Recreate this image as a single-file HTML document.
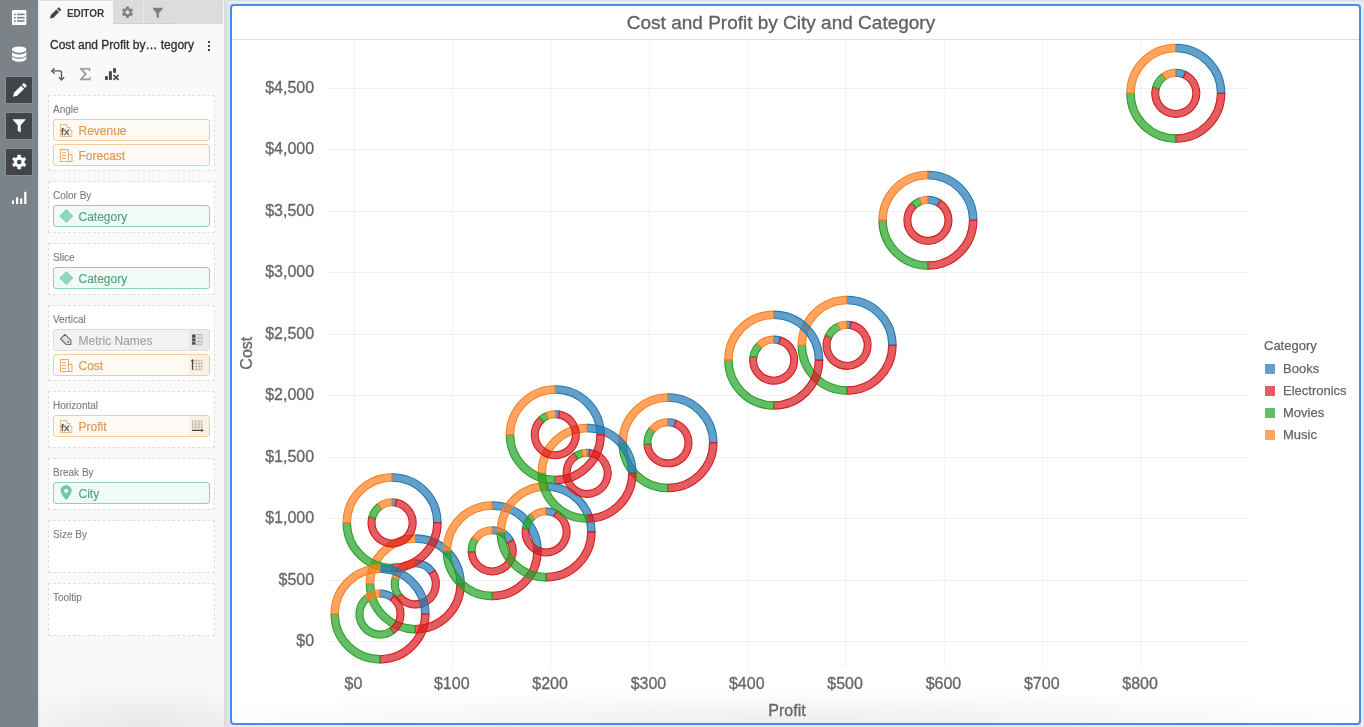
<!DOCTYPE html>
<html>
<head>
<meta charset="utf-8">
<title>Cost and Profit by City and Category</title>
<style>
html,body{margin:0;padding:0}
body{width:1364px;height:727px;overflow:hidden;background:#ebebeb;font-family:"Liberation Sans",sans-serif;position:relative;color:#333}
*{box-sizing:border-box}
.abs{position:absolute}
#sidebar{position:absolute;left:0;top:0;width:38px;height:727px;background:#7b8389}
.sq{position:absolute;left:6px;width:26px;height:26px;background:#414549;box-shadow:0 0 0 1px rgba(255,255,255,0.10);border-radius:1px}
#panel{position:absolute;left:38px;top:0;width:186px;height:727px;background:#f9f9f9}
#panelshadow{position:absolute;left:224px;top:0;width:7px;height:727px;background:linear-gradient(to right,#d9d9d9,#ebebeb)}
#panelfade{position:absolute;left:38px;top:682px;width:186px;height:45px;background:radial-gradient(ellipse 95% 100% at 58% 100%,rgba(0,0,0,0.065) 0%,rgba(0,0,0,0.04) 45%,rgba(0,0,0,0) 100%)}
#tabbar{position:absolute;left:38px;top:1px;width:185px;height:23px;background:#dcdcdc}
#tab1{position:absolute;left:38px;top:1px;width:75px;height:23px;background:#f9f9f9}
.tabdiv{position:absolute;top:1px;width:1px;height:23px;background:#e9e9e9}
#tabline{position:absolute;left:113px;top:23px;width:60px;height:1px;background:#cfcfcf}
#edlabel{will-change:transform;position:absolute;left:66.500px;top:9px;font-size:10px;font-weight:bold;color:#3a3a3a;line-height:10px;letter-spacing:-0.1px}
#ptitle{will-change:transform;position:absolute;left:50px;top:38px;font-size:12px;line-height:14px;color:#2c2f36;white-space:nowrap;-webkit-text-stroke:0.300px #2c2f36}
.zone{will-change:transform;position:absolute;left:48px;width:167px;background:#fff;border:1px dashed #dfdfdf}
.zl{position:absolute;left:4px;top:8px;-webkit-text-stroke:0.100px;font-size:10px;line-height:11px;color:#7b7b7b}
.pill{position:absolute;left:4px;width:157px;height:22px;border-radius:3px;border:1px solid;font-size:12px;line-height:22px;padding-left:24.500px;overflow:hidden;-webkit-text-stroke:0.150px}
.pill svg{position:absolute;left:0;top:0}
.or{border-color:#f3cc9d;background:#fdf9f4;color:#dc984f}
.gr{border-color:#8fd3b3;background:#f1faf6;color:#4aa87c}
.gy{border-color:#dcdcdc;background:#f3f3f3;color:#a3a3a3}
.pr{position:absolute;right:0;top:0;width:20px;height:20px}
.or .pr{background:#fcf1e5}
.gy .pr{background:#e9e9e9}
#chart{position:absolute;left:230px;top:4px;width:1131px;height:721px;border:2px solid #4090ea;border-radius:4px;background:#fff;overflow:hidden}
#ctitleline{position:absolute;left:0;top:33px;width:100%;height:1px;background:#dedede}
#cfade{position:absolute;left:0;bottom:0;width:100%;height:34px;background:radial-gradient(ellipse 58% 100% at 50% 100%,rgba(0,0,0,0.07) 0%,rgba(0,0,0,0.035) 50%,rgba(0,0,0,0) 100%)}
#chartsvg{position:absolute;left:0;top:0;will-change:transform}
</style>
</head>
<body>

<!-- left dark sidebar -->
<div id="sidebar">
  <div class="sq" style="top:77px"></div>
  <div class="sq" style="top:113px"></div>
  <div class="sq" style="top:149px"></div>
  <svg class="abs" style="left:0;top:0" width="38" height="220" viewBox="0 0 38 220">
    <!-- list -->
    <rect x="12" y="10" width="14.4" height="15" rx="1" fill="#fff"/>
    <g fill="#7b8389">
      <rect x="14" y="13.6" width="1.8" height="1.6"/><rect x="17" y="13.6" width="7.6" height="1.6"/>
      <rect x="14" y="16.9" width="1.8" height="1.6"/><rect x="17" y="16.9" width="7.6" height="1.6"/>
      <rect x="14" y="20.2" width="1.8" height="1.6"/><rect x="17" y="20.2" width="7.6" height="1.6"/>
    </g>
    <!-- database -->
    <g fill="#fff">
      <ellipse cx="19.2" cy="49.6" rx="7.2" ry="3.2"/>
      <path d="M12 51.8c1 1.7 3.8 2.6 7.2 2.6s6.200-.9 7.200-2.600v2.600c0 1.800-3.200 3.200-7.200 3.200s-7.200-1.400-7.200-3.200z"/>
      <path d="M12 56.200c1 1.700 3.800 2.600 7.200 2.600s6.200-.9 7.200-2.600v2.400c0 1.800-3.200 3.200-7.200 3.200s-7.200-1.400-7.200-3.200z"/>
    </g>
    <!-- pencil -->
    <g fill="#fff">
      <path d="M13 96.800l1-4.100 7-7 3.100 3.100-7 7z"/>
      <path d="M21.900 84.800l1.100-1.100c.5-.5 1.300-.5 1.800 0l1.300 1.300c.5.5.5 1.300 0 1.800l-1.100 1.100z"/>
    </g>
    <!-- funnel -->
    <path d="M12.500 119.300h13.400l-5.200 6v7.200l-3 -1.700v-5.500z" fill="#fff"/>
    <!-- gear -->
    <g transform="translate(19.200,162)">
      <g fill="#fff">
        <circle r="5.400"/>
        <g id="teeth">
          <rect x="-1.700" y="-7.300" width="3.400" height="14.600" rx="0.600"/>
          <rect x="-1.700" y="-7.300" width="3.400" height="14.600" rx="0.600" transform="rotate(60)"/>
          <rect x="-1.700" y="-7.300" width="3.400" height="14.600" rx="0.600" transform="rotate(120)"/>
        </g>
      </g>
      <circle r="2.300" fill="#414549"/>
    </g>
    <!-- bars -->
    <g fill="#fff">
      <rect x="12" y="200.400" width="2" height="3.600"/>
      <rect x="16" y="197.300" width="2.200" height="6.700"/>
      <rect x="20.100" y="198.600" width="2.200" height="5.400"/>
      <rect x="24.200" y="191.800" width="2.200" height="12.200"/>
    </g>
  </svg>
</div>

<!-- editor panel -->
<div id="panel"></div>
<div id="panelshadow"></div>
<div id="tabbar"></div>
<div id="tab1"></div>
<div class="tabdiv" style="left:143px"></div>
<div id="tabline"></div>
<div class="abs" style="left:38px;top:0;width:2px;height:727px;background:linear-gradient(to right,#e8e8e8,#f9f9f9)"></div>
<div class="abs" style="left:38px;top:0;width:1326px;height:1px;background:#dedede"></div>
<svg class="abs" style="left:38px;top:0" width="186" height="90" viewBox="38 0 186 90">
  <!-- tab pencil -->
  <g fill="#444">
    <path d="M49.900 18.600l.9-3.600 5.600-5.600 2.700 2.700-5.600 5.600z"/>
    <path d="M57.100 8.700l.9-.9c.4-.4 1-.4 1.400 0l1.300 1.300c.4.400.4 1 0 1.400l-.9.900z"/>
  </g>
  <!-- tab gear -->
  <g transform="translate(127.500,12.200)">
    <g fill="#808080">
      <circle r="4.200"/>
      <rect x="-1.400" y="-5.700" width="2.800" height="11.400" rx="0.500"/>
      <rect x="-1.400" y="-5.700" width="2.800" height="11.400" rx="0.500" transform="rotate(60)"/>
      <rect x="-1.400" y="-5.700" width="2.800" height="11.400" rx="0.500" transform="rotate(120)"/>
    </g>
    <circle r="2" fill="#dcdcdc"/>
  </g>
  <!-- tab funnel -->
  <path d="M153 7.800h9.700v1.200l-3.800 4.300v5l-2.400-1.400v-3.600l-3.500-4.300z" fill="#808080"/>
  <!-- kebab -->
  <g fill="#444"><rect x="208" y="41" width="2" height="2"/><rect x="208" y="45" width="2" height="2"/><rect x="208" y="49" width="2" height="2"/></g>
  <!-- swap icon -->
  <g fill="none" stroke="#585858" stroke-width="1.300" stroke-linejoin="round" stroke-linecap="round">
    <path d="M51.900 70.900h7.400q2.200 0 2.200 2.200v6.400"/>
    <path d="M54.300 68.600l-2.600 2.300 2.600 2.300"/>
    <path d="M59.200 77.500l2.300 2.500 2.300-2.500"/>
  </g>
  <!-- sigma -->
  <path d="M80 68.200h10v2.600h-.8c-.1-.9-.6-1.300-1.500-1.300h-5.100l4.200 4.500-4.500 4.800h5.700c1 0 1.500-.5 1.700-1.500h.8l-.4 2.800h-10.100v-.7l4.700-5.200-4.700-5.200z" fill="#9b9b9b" stroke="#9b9b9b" stroke-width="0.500" stroke-linejoin="round"/>
  <!-- bars with x -->
  <g fill="#484848">
    <rect x="105" y="76.100" width="2.800" height="3.800"/>
    <rect x="108.900" y="71.200" width="3" height="8.700"/>
    <rect x="113.100" y="68.200" width="2.900" height="4.600"/>
  </g>
  <path d="M113.500 75l5.100 4.900M118.600 75l-5.100 4.900" stroke="#484848" stroke-width="1.700" fill="none"/>
</svg>
<div id="edlabel">EDITOR</div>
<div id="ptitle">Cost and Profit by… tegory</div>

<!-- drop zones -->
<div class="zone" style="top:95px;height:76px"><div class="zl">Angle</div>
  <div class="pill or" style="top:23px"><svg width="24" height="20" viewBox="0 0 24 20"><g>
      <path d="M6.500 4.500h6.400v2.900h2.900v3h2v6.200h-11.300z" fill="#fefaf5" stroke="#e9b67c" stroke-width="1"/>
      <text x="7" y="14.800" font-size="9.500" font-family="Liberation Sans, sans-serif" fill="#505458" stroke="#505458" stroke-width="0.300" textLength="8.400" lengthAdjust="spacingAndGlyphs">fx</text>
    </g></svg>Revenue</div>
  <div class="pill or" style="top:48px"><svg width="24" height="20" viewBox="0 0 24 20"><g fill="none" stroke="#e6ab6c" stroke-width="1">
      <path d="M6.500 4.500h8v12h-8z"/><path d="M14.500 9.500h3.500v7h-3.500"/>
      <path d="M8 7.700h4M8 10.500h4M8 13.400h4"/>
    </g></svg>Forecast</div>
</div>
<div class="zone" style="top:181px;height:52px"><div class="zl">Color By</div>
  <div class="pill gr" style="top:23px"><svg width="24" height="20" viewBox="0 0 24 20"><g><path d="M12.300 3.600l6.500 6.500-6.500 6.500-6.500-6.500z" fill="#8fd8b8" stroke="#74cba8" stroke-width="0.800"/></g></svg>Category</div>
</div>
<div class="zone" style="top:243px;height:52px"><div class="zl">Slice</div>
  <div class="pill gr" style="top:23px"><svg width="24" height="20" viewBox="0 0 24 20"><g><path d="M12.300 3.600l6.500 6.500-6.500 6.500-6.500-6.500z" fill="#8fd8b8" stroke="#74cba8" stroke-width="0.800"/></g></svg>Category</div>
</div>
<div class="zone" style="top:305px;height:76px"><div class="zl">Vertical</div>
  <div class="pill gy" style="top:23px"><svg width="24" height="20" viewBox="0 0 24 20"><g><path d="M10.900 4.400l-4.400 4.500 5.500 5.400 4.700.2.300-4.200z" fill="#dedede" stroke="#666" stroke-width="1.100" stroke-linejoin="round"/><circle cx="14.300" cy="11.900" r="0.900" fill="#666"/></g></svg>Metric Names<div class="pr"><svg width="20" height="20" viewBox="0 0 20 20"><g>
      <rect x="3.100" y="4.500" width="3.400" height="10.200" fill="#4a4a4a"/>
      <path d="M6.500 4.500h6.500v10.200h-6.500M6.500 8.100h6.500M6.500 11.600h6.500M9.700 4.500v10.200" fill="none" stroke="#b5b5b5" stroke-width="0.900"/>
      <path d="M3.100 8.100h3.400M3.100 11.600h3.400" stroke="#d9d9d9" stroke-width="0.700"/>
    </g></svg></div></div>
  <div class="pill or" style="top:48px"><svg width="24" height="20" viewBox="0 0 24 20"><g fill="none" stroke="#e6ab6c" stroke-width="1">
      <path d="M6.500 4.500h8v12h-8z"/><path d="M14.500 9.500h3.500v7h-3.500"/>
      <path d="M8 7.700h4M8 10.500h4M8 13.400h4"/>
    </g></svg>Cost<div class="pr"><svg width="20" height="20" viewBox="0 0 20 20"><g>
      <path d="M3.500 14.700v-9" stroke="#444" stroke-width="1.300" fill="none"/>
      <path d="M3.500 3.900l1.800 2.300h-3.600z" fill="#444"/>
      <path d="M4.500 5.300h8.500v9.400h-8.500M4.500 8.500h8.500M4.500 11.600h8.500M7.300 5.300v9.400M10.200 5.300v9.400" fill="none" stroke="#bdb5ac" stroke-width="0.900"/>
    </g></svg></div></div>
</div>
<div class="zone" style="top:391px;height:57px"><div class="zl">Horizontal</div>
  <div class="pill or" style="top:23px"><svg width="24" height="20" viewBox="0 0 24 20"><g>
      <path d="M6.500 4.500h6.400v2.900h2.900v3h2v6.200h-11.300z" fill="#fefaf5" stroke="#e9b67c" stroke-width="1"/>
      <text x="7" y="14.800" font-size="9.500" font-family="Liberation Sans, sans-serif" fill="#505458" stroke="#505458" stroke-width="0.300" textLength="8.400" lengthAdjust="spacingAndGlyphs">fx</text>
    </g></svg>Profit<div class="pr"><svg width="20" height="20" viewBox="0 0 20 20"><g>
      <path d="M3.100 14.300h10" stroke="#444" stroke-width="1.300" fill="none"/>
      <path d="M14.800 14.300l-2.400 1.800v-3.600z" fill="#444"/>
      <path d="M3.500 13.500v-8.400h9.500v8.400M3.500 8.100h9.500M3.500 11h9.500M6.700 5.100v8.400M9.800 5.100v8.400" fill="none" stroke="#bdb5ac" stroke-width="0.900"/>
    </g></svg></div></div>
</div>
<div class="zone" style="top:458px;height:52px"><div class="zl">Break By</div>
  <div class="pill gr" style="top:23px"><svg width="24" height="20" viewBox="0 0 24 20"><g><path d="M12.200 2.200c-3.200 0-5.600 2.400-5.600 5.400 0 3.700 5.600 9.600 5.600 9.600s5.600-5.900 5.600-9.600c0-3-2.400-5.400-5.600-5.400z" fill="#6fcaa3"/><circle cx="12.200" cy="7.800" r="2.100" fill="#f1faf6"/></g></svg>City</div>
</div>
<div class="zone" style="top:520px;height:53px"><div class="zl">Size By</div></div>
<div class="zone" style="top:583px;height:53px"><div class="zl">Tooltip</div></div>
<div id="panelfade"></div>


<!-- chart container -->
<div id="chart">
  <div id="ctitleline"></div>
  <div id="cfade"></div>
</div>
<svg id="chartsvg" width="1364" height="727" viewBox="0 0 1364 727">
<g stroke="#f4f4f4" stroke-width="1.2"><line x1="354.25" x2="354.25" y1="40" y2="668"/><line x1="452.58" x2="452.58" y1="40" y2="668"/><line x1="550.91" x2="550.91" y1="40" y2="668"/><line x1="649.24" x2="649.24" y1="40" y2="668"/><line x1="747.57" x2="747.57" y1="40" y2="668"/><line x1="845.90" x2="845.90" y1="40" y2="668"/><line x1="944.23" x2="944.23" y1="40" y2="668"/><line x1="1042.56" x2="1042.56" y1="40" y2="668"/><line x1="1140.89" x2="1140.89" y1="40" y2="668"/></g><g stroke="#f1f1f1" stroke-width="1"><line x1="327" x2="1248" y1="641.50" y2="641.50"/><line x1="327" x2="1248" y1="580.50" y2="580.50"/><line x1="327" x2="1248" y1="518.50" y2="518.50"/><line x1="327" x2="1248" y1="457.50" y2="457.50"/><line x1="327" x2="1248" y1="395.50" y2="395.50"/><line x1="327" x2="1248" y1="334.50" y2="334.50"/><line x1="327" x2="1248" y1="272.50" y2="272.50"/><line x1="327" x2="1248" y1="211.50" y2="211.50"/><line x1="327" x2="1248" y1="149.50" y2="149.50"/><line x1="327" x2="1248" y1="88.50" y2="88.50"/></g>
<g font-size="16" fill="#666" stroke="#666" stroke-width="0.3"><text x="314.1" y="646.00" text-anchor="end">$0</text><text x="314.1" y="585.00" text-anchor="end">$500</text><text x="314.1" y="523.00" text-anchor="end">$1,000</text><text x="314.1" y="462.00" text-anchor="end">$1,500</text><text x="314.1" y="400.00" text-anchor="end">$2,000</text><text x="314.1" y="339.00" text-anchor="end">$2,500</text><text x="314.1" y="277.00" text-anchor="end">$3,000</text><text x="314.1" y="216.00" text-anchor="end">$3,500</text><text x="314.1" y="154.00" text-anchor="end">$4,000</text><text x="314.1" y="93.00" text-anchor="end">$4,500</text><text x="353.45" y="688.7" text-anchor="middle">$0</text><text x="451.78" y="688.7" text-anchor="middle">$100</text><text x="550.11" y="688.7" text-anchor="middle">$200</text><text x="648.44" y="688.7" text-anchor="middle">$300</text><text x="746.77" y="688.7" text-anchor="middle">$400</text><text x="845.10" y="688.7" text-anchor="middle">$500</text><text x="943.43" y="688.7" text-anchor="middle">$600</text><text x="1041.76" y="688.7" text-anchor="middle">$700</text><text x="1140.09" y="688.7" text-anchor="middle">$800</text>
<text x="787" y="715.5" text-anchor="middle">Profit</text>
<text transform="translate(251.7,353.2) rotate(-90)" text-anchor="middle">Cost</text>
</g>
<text x="781" y="29" font-size="19" fill="#606060" stroke="#606060" stroke-width="0.3" text-anchor="middle">Cost and Profit by City and Category</text>
<g font-size="13" fill="#666" stroke="#666" stroke-width="0.25"><text x="1264" y="350">Category</text><rect x="1265" y="364" width="10" height="10" fill="#1f77b4" fill-opacity="0.7" stroke="none"/><text x="1283" y="373.3">Books</text><rect x="1265" y="386" width="10" height="10" fill="#d8181c" fill-opacity="0.7" stroke="none"/><text x="1283" y="395.3">Electronics</text><rect x="1265" y="408" width="10" height="10" fill="#24a124" fill-opacity="0.7" stroke="none"/><text x="1283" y="417.3">Movies</text><rect x="1265" y="430" width="10" height="10" fill="#ff7f1e" fill-opacity="0.7" stroke="none"/><text x="1283" y="439.3">Music</text></g>
<g fill-opacity="0.7" stroke-opacity="1" stroke-width="1.1">
<g><path d="M1175.80 44.30A49.0 49.0 0 0 1 1224.80 93.30L1217.40 93.30A41.6 41.6 0 0 0 1175.80 51.70Z" fill="#1f77b4" stroke="#1f77b4"/><path d="M1224.80 93.30A49.0 49.0 0 0 1 1175.80 142.30L1175.80 134.90A41.6 41.6 0 0 0 1217.40 93.30Z" fill="#d8181c" stroke="#d8181c"/><path d="M1175.80 142.30A49.0 49.0 0 0 1 1126.80 93.30L1134.20 93.30A41.6 41.6 0 0 0 1175.80 134.90Z" fill="#24a124" stroke="#24a124"/><path d="M1126.80 93.30A49.0 49.0 0 0 1 1175.80 44.30L1175.80 51.70A41.6 41.6 0 0 0 1134.20 93.30Z" fill="#ff7f1e" stroke="#ff7f1e"/><path d="M1175.80 69.30A24.0 24.0 0 0 1 1185.94 71.55L1183.03 77.80A17.1 17.1 0 0 0 1175.80 76.20Z" fill="#1f77b4" stroke="#1f77b4"/><path d="M1185.94 71.55A24.0 24.0 0 1 1 1152.62 87.09L1159.28 88.87A17.1 17.1 0 1 0 1183.03 77.80Z" fill="#d8181c" stroke="#d8181c"/><path d="M1152.62 87.09A24.0 24.0 0 0 1 1162.03 73.64L1165.99 79.29A17.1 17.1 0 0 0 1159.28 88.87Z" fill="#24a124" stroke="#24a124"/><path d="M1162.03 73.64A24.0 24.0 0 0 1 1175.80 69.30L1175.80 76.20A17.1 17.1 0 0 0 1165.99 79.29Z" fill="#ff7f1e" stroke="#ff7f1e"/></g>
<g><path d="M927.90 171.30A49.0 49.0 0 0 1 976.90 220.30L969.50 220.30A41.6 41.6 0 0 0 927.90 178.70Z" fill="#1f77b4" stroke="#1f77b4"/><path d="M976.90 220.30A49.0 49.0 0 0 1 927.90 269.30L927.90 261.90A41.6 41.6 0 0 0 969.50 220.30Z" fill="#d8181c" stroke="#d8181c"/><path d="M927.90 269.30A49.0 49.0 0 0 1 878.90 220.30L886.30 220.30A41.6 41.6 0 0 0 927.90 261.90Z" fill="#24a124" stroke="#24a124"/><path d="M878.90 220.30A49.0 49.0 0 0 1 927.90 171.30L927.90 178.70A41.6 41.6 0 0 0 886.30 220.30Z" fill="#ff7f1e" stroke="#ff7f1e"/><path d="M927.90 196.30A24.0 24.0 0 0 1 940.62 199.95L936.96 205.80A17.1 17.1 0 0 0 927.90 203.20Z" fill="#1f77b4" stroke="#1f77b4"/><path d="M940.62 199.95A24.0 24.0 0 1 1 911.53 202.75L916.24 207.79A17.1 17.1 0 1 0 936.96 205.80Z" fill="#d8181c" stroke="#d8181c"/><path d="M911.53 202.75A24.0 24.0 0 0 1 919.14 197.95L921.66 204.38A17.1 17.1 0 0 0 916.24 207.79Z" fill="#24a124" stroke="#24a124"/><path d="M919.14 197.95A24.0 24.0 0 0 1 927.90 196.30L927.90 203.20A17.1 17.1 0 0 0 921.66 204.38Z" fill="#ff7f1e" stroke="#ff7f1e"/></g>
<g><path d="M847.10 296.30A49.0 49.0 0 0 1 896.10 345.30L888.70 345.30A41.6 41.6 0 0 0 847.10 303.70Z" fill="#1f77b4" stroke="#1f77b4"/><path d="M896.10 345.30A49.0 49.0 0 0 1 847.10 394.30L847.10 386.90A41.6 41.6 0 0 0 888.70 345.30Z" fill="#d8181c" stroke="#d8181c"/><path d="M847.10 394.30A49.0 49.0 0 0 1 798.10 345.30L805.50 345.30A41.6 41.6 0 0 0 847.10 386.90Z" fill="#24a124" stroke="#24a124"/><path d="M798.10 345.30A49.0 49.0 0 0 1 847.10 296.30L847.10 303.70A41.6 41.6 0 0 0 805.50 345.30Z" fill="#ff7f1e" stroke="#ff7f1e"/><path d="M847.10 321.30A24.0 24.0 0 0 1 851.06 321.63L849.92 328.43A17.1 17.1 0 0 0 847.10 328.20Z" fill="#1f77b4" stroke="#1f77b4"/><path d="M851.06 321.63A24.0 24.0 0 1 1 825.35 335.16L831.60 338.07A17.1 17.1 0 1 0 849.92 328.43Z" fill="#d8181c" stroke="#d8181c"/><path d="M825.35 335.16A24.0 24.0 0 0 1 837.34 323.37L840.14 329.68A17.1 17.1 0 0 0 831.60 338.07Z" fill="#24a124" stroke="#24a124"/><path d="M837.34 323.37A24.0 24.0 0 0 1 847.10 321.30L847.10 328.20A17.1 17.1 0 0 0 840.14 329.68Z" fill="#ff7f1e" stroke="#ff7f1e"/></g>
<g><path d="M773.70 311.10A49.0 49.0 0 0 1 822.70 360.10L815.30 360.10A41.6 41.6 0 0 0 773.70 318.50Z" fill="#1f77b4" stroke="#1f77b4"/><path d="M822.70 360.10A49.0 49.0 0 0 1 773.70 409.10L773.70 401.70A41.6 41.6 0 0 0 815.30 360.10Z" fill="#d8181c" stroke="#d8181c"/><path d="M773.70 409.10A49.0 49.0 0 0 1 724.70 360.10L732.10 360.10A41.6 41.6 0 0 0 773.70 401.70Z" fill="#24a124" stroke="#24a124"/><path d="M724.70 360.10A49.0 49.0 0 0 1 773.70 311.10L773.70 318.50A41.6 41.6 0 0 0 732.10 360.10Z" fill="#ff7f1e" stroke="#ff7f1e"/><path d="M773.70 336.10A24.0 24.0 0 0 1 780.60 337.11L778.61 343.72A17.1 17.1 0 0 0 773.70 343.00Z" fill="#1f77b4" stroke="#1f77b4"/><path d="M780.60 337.11A24.0 24.0 0 1 1 750.00 356.35L756.81 357.42A17.1 17.1 0 1 0 778.61 343.72Z" fill="#d8181c" stroke="#d8181c"/><path d="M750.00 356.35A24.0 24.0 0 0 1 756.73 343.13L761.61 348.01A17.1 17.1 0 0 0 756.81 357.42Z" fill="#24a124" stroke="#24a124"/><path d="M756.73 343.13A24.0 24.0 0 0 1 773.70 336.10L773.70 343.00A17.1 17.1 0 0 0 761.61 348.01Z" fill="#ff7f1e" stroke="#ff7f1e"/></g>
<g><path d="M667.95 393.80A49.0 49.0 0 0 1 716.95 442.80L709.55 442.80A41.6 41.6 0 0 0 667.95 401.20Z" fill="#1f77b4" stroke="#1f77b4"/><path d="M716.95 442.80A49.0 49.0 0 0 1 667.95 491.80L667.95 484.40A41.6 41.6 0 0 0 709.55 442.80Z" fill="#d8181c" stroke="#d8181c"/><path d="M667.95 491.80A49.0 49.0 0 0 1 618.95 442.80L626.35 442.80A41.6 41.6 0 0 0 667.95 484.40Z" fill="#24a124" stroke="#24a124"/><path d="M618.95 442.80A49.0 49.0 0 0 1 667.95 393.80L667.95 401.20A41.6 41.6 0 0 0 626.35 442.80Z" fill="#ff7f1e" stroke="#ff7f1e"/><path d="M667.95 418.80A24.0 24.0 0 0 1 676.16 420.25L673.80 426.73A17.1 17.1 0 0 0 667.95 425.70Z" fill="#1f77b4" stroke="#1f77b4"/><path d="M676.16 420.25A24.0 24.0 0 1 1 644.01 444.47L650.89 443.99A17.1 17.1 0 1 0 673.80 426.73Z" fill="#d8181c" stroke="#d8181c"/><path d="M644.01 444.47A24.0 24.0 0 0 1 649.43 427.53L654.76 431.92A17.1 17.1 0 0 0 650.89 443.99Z" fill="#24a124" stroke="#24a124"/><path d="M649.43 427.53A24.0 24.0 0 0 1 667.95 418.80L667.95 425.70A17.1 17.1 0 0 0 654.76 431.92Z" fill="#ff7f1e" stroke="#ff7f1e"/></g>
<g><path d="M415.30 534.90A49.0 49.0 0 0 1 464.30 583.90L456.90 583.90A41.6 41.6 0 0 0 415.30 542.30Z" fill="#1f77b4" stroke="#1f77b4"/><path d="M464.30 583.90A49.0 49.0 0 0 1 415.30 632.90L415.30 625.50A41.6 41.6 0 0 0 456.90 583.90Z" fill="#d8181c" stroke="#d8181c"/><path d="M415.30 632.90A49.0 49.0 0 0 1 366.30 583.90L373.70 583.90A41.6 41.6 0 0 0 415.30 625.50Z" fill="#24a124" stroke="#24a124"/><path d="M366.30 583.90A49.0 49.0 0 0 1 415.30 534.90L415.30 542.30A41.6 41.6 0 0 0 373.70 583.90Z" fill="#ff7f1e" stroke="#ff7f1e"/><path d="M415.30 559.90A24.0 24.0 0 0 1 435.10 570.34L429.41 574.24A17.1 17.1 0 0 0 415.30 566.80Z" fill="#1f77b4" stroke="#1f77b4"/><path d="M435.10 570.34A24.0 24.0 0 0 1 395.88 598.01L401.47 593.95A17.1 17.1 0 0 0 429.41 574.24Z" fill="#d8181c" stroke="#d8181c"/><path d="M395.88 598.01A24.0 24.0 0 0 1 392.16 577.53L398.81 579.36A17.1 17.1 0 0 0 401.47 593.95Z" fill="#24a124" stroke="#24a124"/><path d="M392.16 577.53A24.0 24.0 0 0 1 415.30 559.90L415.30 566.80A17.1 17.1 0 0 0 398.81 579.36Z" fill="#ff7f1e" stroke="#ff7f1e"/></g>
<g><path d="M492.20 501.80A49.0 49.0 0 0 1 541.20 550.80L533.80 550.80A41.6 41.6 0 0 0 492.20 509.20Z" fill="#1f77b4" stroke="#1f77b4"/><path d="M541.20 550.80A49.0 49.0 0 0 1 492.20 599.80L492.20 592.40A41.6 41.6 0 0 0 533.80 550.80Z" fill="#d8181c" stroke="#d8181c"/><path d="M492.20 599.80A49.0 49.0 0 0 1 443.20 550.80L450.60 550.80A41.6 41.6 0 0 0 492.20 592.40Z" fill="#24a124" stroke="#24a124"/><path d="M443.20 550.80A49.0 49.0 0 0 1 492.20 501.80L492.20 509.20A41.6 41.6 0 0 0 450.60 550.80Z" fill="#ff7f1e" stroke="#ff7f1e"/><path d="M492.20 526.80A24.0 24.0 0 0 1 513.49 539.72L507.37 542.90A17.1 17.1 0 0 0 492.20 533.70Z" fill="#1f77b4" stroke="#1f77b4"/><path d="M513.49 539.72A24.0 24.0 0 1 1 468.22 551.89L475.12 551.58A17.1 17.1 0 1 0 507.37 542.90Z" fill="#d8181c" stroke="#d8181c"/><path d="M468.22 551.89A24.0 24.0 0 0 1 472.30 537.38L478.02 541.24A17.1 17.1 0 0 0 475.12 551.58Z" fill="#24a124" stroke="#24a124"/><path d="M472.30 537.38A24.0 24.0 0 0 1 492.20 526.80L492.20 533.70A17.1 17.1 0 0 0 478.02 541.24Z" fill="#ff7f1e" stroke="#ff7f1e"/></g>
<g><path d="M546.10 482.90A49.0 49.0 0 0 1 595.10 531.90L587.70 531.90A41.6 41.6 0 0 0 546.10 490.30Z" fill="#1f77b4" stroke="#1f77b4"/><path d="M595.10 531.90A49.0 49.0 0 0 1 546.10 580.90L546.10 573.50A41.6 41.6 0 0 0 587.70 531.90Z" fill="#d8181c" stroke="#d8181c"/><path d="M546.10 580.90A49.0 49.0 0 0 1 497.10 531.90L504.50 531.90A41.6 41.6 0 0 0 546.10 573.50Z" fill="#24a124" stroke="#24a124"/><path d="M497.10 531.90A49.0 49.0 0 0 1 546.10 482.90L546.10 490.30A41.6 41.6 0 0 0 504.50 531.90Z" fill="#ff7f1e" stroke="#ff7f1e"/><path d="M546.10 507.90A24.0 24.0 0 0 1 556.85 510.44L553.76 516.61A17.1 17.1 0 0 0 546.10 514.80Z" fill="#1f77b4" stroke="#1f77b4"/><path d="M556.85 510.44A24.0 24.0 0 1 1 522.46 527.73L529.26 528.93A17.1 17.1 0 1 0 553.76 516.61Z" fill="#d8181c" stroke="#d8181c"/><path d="M522.46 527.73A24.0 24.0 0 0 1 530.26 513.87L534.81 519.05A17.1 17.1 0 0 0 529.26 528.93Z" fill="#24a124" stroke="#24a124"/><path d="M530.26 513.87A24.0 24.0 0 0 1 546.10 507.90L546.10 514.80A17.1 17.1 0 0 0 534.81 519.05Z" fill="#ff7f1e" stroke="#ff7f1e"/></g>
<g><path d="M587.10 424.30A49.0 49.0 0 0 1 636.10 473.30L628.70 473.30A41.6 41.6 0 0 0 587.10 431.70Z" fill="#1f77b4" stroke="#1f77b4"/><path d="M636.10 473.30A49.0 49.0 0 0 1 587.10 522.30L587.10 514.90A41.6 41.6 0 0 0 628.70 473.30Z" fill="#d8181c" stroke="#d8181c"/><path d="M587.10 522.30A49.0 49.0 0 0 1 538.10 473.30L545.50 473.30A41.6 41.6 0 0 0 587.10 514.90Z" fill="#24a124" stroke="#24a124"/><path d="M538.10 473.30A49.0 49.0 0 0 1 587.10 424.30L587.10 431.70A41.6 41.6 0 0 0 545.50 473.30Z" fill="#ff7f1e" stroke="#ff7f1e"/><path d="M587.10 449.30A24.0 24.0 0 0 1 589.82 449.45L589.04 456.31A17.1 17.1 0 0 0 587.10 456.20Z" fill="#1f77b4" stroke="#1f77b4"/><path d="M589.82 449.45A24.0 24.0 0 1 1 574.17 453.08L577.89 458.89A17.1 17.1 0 1 0 589.04 456.31Z" fill="#d8181c" stroke="#d8181c"/><path d="M574.17 453.08A24.0 24.0 0 0 1 581.54 449.95L583.14 456.67A17.1 17.1 0 0 0 577.89 458.89Z" fill="#24a124" stroke="#24a124"/><path d="M581.54 449.95A24.0 24.0 0 0 1 587.10 449.30L587.10 456.20A17.1 17.1 0 0 0 583.14 456.67Z" fill="#ff7f1e" stroke="#ff7f1e"/></g>
<g><path d="M555.30 385.70A49.0 49.0 0 0 1 604.30 434.70L596.90 434.70A41.6 41.6 0 0 0 555.30 393.10Z" fill="#1f77b4" stroke="#1f77b4"/><path d="M604.30 434.70A49.0 49.0 0 0 1 554.44 483.69L554.57 476.29A41.6 41.6 0 0 0 596.90 434.70Z" fill="#d8181c" stroke="#d8181c"/><path d="M554.44 483.69A49.0 49.0 0 0 1 506.30 434.70L513.70 434.70A41.6 41.6 0 0 0 554.57 476.29Z" fill="#24a124" stroke="#24a124"/><path d="M506.30 434.70A49.0 49.0 0 0 1 555.30 385.70L555.30 393.10A41.6 41.6 0 0 0 513.70 434.70Z" fill="#ff7f1e" stroke="#ff7f1e"/><path d="M555.30 410.70A24.0 24.0 0 0 1 559.47 411.06L558.27 417.86A17.1 17.1 0 0 0 555.30 417.60Z" fill="#1f77b4" stroke="#1f77b4"/><path d="M559.47 411.06A24.0 24.0 0 1 1 539.24 416.86L543.86 421.99A17.1 17.1 0 1 0 558.27 417.86Z" fill="#d8181c" stroke="#d8181c"/><path d="M539.24 416.86A24.0 24.0 0 0 1 545.73 412.69L548.48 419.02A17.1 17.1 0 0 0 543.86 421.99Z" fill="#24a124" stroke="#24a124"/><path d="M545.73 412.69A24.0 24.0 0 0 1 555.30 410.70L555.30 417.60A17.1 17.1 0 0 0 548.48 419.02Z" fill="#ff7f1e" stroke="#ff7f1e"/></g>
<g><path d="M392.10 473.80A49.0 49.0 0 0 1 441.10 522.80L433.70 522.80A41.6 41.6 0 0 0 392.10 481.20Z" fill="#1f77b4" stroke="#1f77b4"/><path d="M441.10 522.80A49.0 49.0 0 0 1 392.10 571.80L392.10 564.40A41.6 41.6 0 0 0 433.70 522.80Z" fill="#d8181c" stroke="#d8181c"/><path d="M392.10 571.80A49.0 49.0 0 0 1 343.10 522.80L350.50 522.80A41.6 41.6 0 0 0 392.10 564.40Z" fill="#24a124" stroke="#24a124"/><path d="M343.10 522.80A49.0 49.0 0 0 1 392.10 473.80L392.10 481.20A41.6 41.6 0 0 0 350.50 522.80Z" fill="#ff7f1e" stroke="#ff7f1e"/><path d="M392.10 498.80A24.0 24.0 0 0 1 396.47 499.20L395.22 505.99A17.1 17.1 0 0 0 392.10 505.70Z" fill="#1f77b4" stroke="#1f77b4"/><path d="M396.47 499.20A24.0 24.0 0 1 1 368.92 516.59L375.58 518.37A17.1 17.1 0 1 0 395.22 505.99Z" fill="#d8181c" stroke="#d8181c"/><path d="M368.92 516.59A24.0 24.0 0 0 1 377.49 503.76L381.69 509.23A17.1 17.1 0 0 0 375.58 518.37Z" fill="#24a124" stroke="#24a124"/><path d="M377.49 503.76A24.0 24.0 0 0 1 392.10 498.80L392.10 505.70A17.1 17.1 0 0 0 381.69 509.23Z" fill="#ff7f1e" stroke="#ff7f1e"/></g>
<g><path d="M380.00 565.00A49.0 49.0 0 0 1 429.00 614.00L421.60 614.00A41.6 41.6 0 0 0 380.00 572.40Z" fill="#1f77b4" stroke="#1f77b4"/><path d="M429.00 614.00A49.0 49.0 0 0 1 380.00 663.00L380.00 655.60A41.6 41.6 0 0 0 421.60 614.00Z" fill="#d8181c" stroke="#d8181c"/><path d="M380.00 663.00A49.0 49.0 0 0 1 331.00 614.00L338.40 614.00A41.6 41.6 0 0 0 380.00 655.60Z" fill="#24a124" stroke="#24a124"/><path d="M331.00 614.00A49.0 49.0 0 0 1 380.00 565.00L380.00 572.40A41.6 41.6 0 0 0 338.40 614.00Z" fill="#ff7f1e" stroke="#ff7f1e"/><path d="M380.00 590.00A24.0 24.0 0 0 1 394.44 594.83L390.29 600.34A17.1 17.1 0 0 0 380.00 596.90Z" fill="#1f77b4" stroke="#1f77b4"/><path d="M394.44 594.83A24.0 24.0 0 0 1 393.94 633.54L389.93 627.92A17.1 17.1 0 0 0 390.29 600.34Z" fill="#d8181c" stroke="#d8181c"/><path d="M393.94 633.54A24.0 24.0 0 0 1 364.80 595.43L369.17 600.77A17.1 17.1 0 0 0 389.93 627.92Z" fill="#24a124" stroke="#24a124"/><path d="M364.80 595.43A24.0 24.0 0 0 1 380.00 590.00L380.00 596.90A17.1 17.1 0 0 0 369.17 600.77Z" fill="#ff7f1e" stroke="#ff7f1e"/></g>
</g>
</svg>
</body>
</html>
